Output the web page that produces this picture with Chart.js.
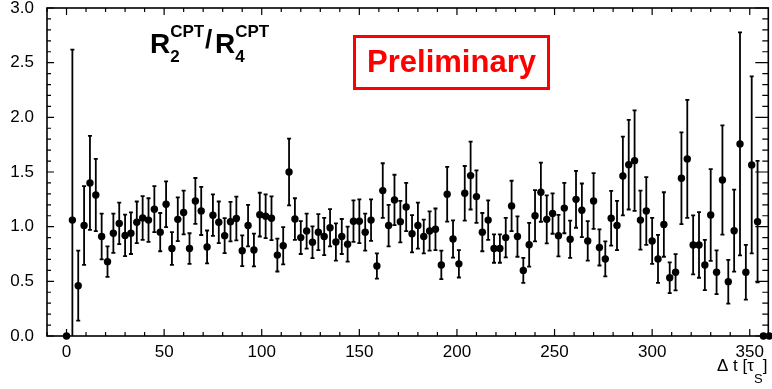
<!DOCTYPE html>
<html>
<head>
<meta charset="utf-8">
<script src="https://cdn.jsdelivr.net/npm/chart.js@4/dist/chart.umd.min.js"></script>
<style>
  html, body { margin: 0; padding: 0; background: #fff; }
</style>
</head>
<body>
<canvas id="c" width="772" height="389"></canvas>
<script>
// bin centres in units of tau_S
const dt = [0,3,6,9,12,15,18,21,24,27,30,33,36,39,42,45,48,51,54,57,
  60,63,66,69,72,75,78,81,84,87,90,93,96,99,102,105,108,111,114,117,
  120,123,126,129,132,135,138,141,144,147,150,153,156,159,162,165,168,171,174,177,
  180,183,186,189,192,195,198,201,204,207,210,213,216,219,222,225,228,231,234,237,
  240,243,246,249,252,255,258,261,264,267,270,273,276,279,282,285,288,291,294,297,
  300,303,306,309,312,315,318,321,324,327,330,333,336,339,342,345,348,351,354,357,360]

// R2CPT / R4CPT per bin
const ratio = [0, 1.06, 0.46, 1.01, 1.40, 1.29, 0.91, 0.68, 0.94, 1.03,
  0.92, 0.94, 1.04, 1.08, 1.06, 1.16, 0.95, 1.205, 0.80, 1.067,
  1.13, 0.80, 1.235, 1.144, 0.815, 1.105, 1.04, 0.918, 1.046, 1.075,
  0.78, 1.01, 0.787, 1.11, 1.095, 1.077, 0.74, 0.826, 1.50, 1.07,
  0.90, 0.96, 0.857, 0.95, 0.91, 0.99, 0.86, 0.91, 0.84, 1.05,
  1.05, 0.95, 1.06, 0.64, 1.33, 1.01, 1.245, 1.046, 1.18, 0.935,
  1.01, 0.91, 0.96, 0.976, 0.65, 1.296, 0.887, 0.66, 1.305, 1.467,
  1.275, 0.95, 1.06, 0.80, 0.80, 0.90, 1.19, 0.91, 0.60, 0.835,
  1.10, 1.315, 1.067, 1.12, 0.918, 1.17, 0.885, 1.25, 1.15, 0.87,
  1.235, 0.81, 0.705, 1.077, 1.01, 1.464, 1.567, 1.604, 1.06, 1.144,
  0.87, 0.705, 1.02, 0.533, 0.583, 1.443, 1.62, 0.833, 0.833, 0.65,
  1.107, 0.583, 1.427, 0.497, 0.963, 1.757, 0.583, 1.565, 1.046, 0,
  0]

const ratioErr = [0, 1.56, 0.32, 0.36, 0.43, 0.33, 0.21, 0.14, 0.18, 0.19,
  0.19, 0.19, 0.19, 0.20, 0.20, 0.21, 0.175, 0.21, 0.15, 0.20,
  0.20, 0.14, 0.21, 0.22, 0.15, 0.19, 0.19, 0.16, 0.18, 0.20,
  0.14, 0.19, 0.15, 0.20, 0.20, 0.20, 0.15, 0.17, 0.305, 0.19,
  0.15, 0.16, 0.145, 0.165, 0.17, 0.17, 0.17, 0.16, 0.16, 0.19,
  0.20, 0.17, 0.19, 0.115, 0.25, 0.19, 0.23, 0.19, 0.22, 0.17,
  0.21, 0.155, 0.18, 0.19, 0.13, 0.25, 0.17, 0.125, 0.25, 0.31,
  0.24, 0.175, 0.18, 0.13, 0.13, 0.18, 0.23, 0.185, 0.115, 0.20,
  0.235, 0.27, 0.22, 0.185, 0.19, 0.23, 0.17, 0.26, 0.245, 0.18,
  0.255, 0.165, 0.16, 0.25, 0.225, 0.36, 0.41, 0.46, 0.27, 0.31,
  0.21, 0.22, 0.295, 0.14, 0.165, 0.42, 0.54, 0.27, 0.30, 0.23,
  0.42, 0.20, 0.50, 0.20, 0.375, 1.02, 0.25, 0.81, 0.555, 0,
  0]

const xTicks = [0, 50, 100, 150, 200, 250, 300, 350]
const yTicks = [0, 0.5, 1.0, 1.5, 2.0, 2.5, 3.0]

const FONT = '"Liberation Sans", Arial, Helvetica, sans-serif'

// ROOT-like frame, inward ticks, error bars and the text boxes
const rootStyle = {
  id: 'rootStyle',
  beforeDatasetsDraw(chart) {
    const {ctx, chartArea: a, scales: {x, y}} = chart
    ctx.save()
    ctx.beginPath()
    ctx.rect(a.left, a.top, a.right - a.left, a.bottom - a.top)
    ctx.clip()
    ctx.strokeStyle = '#000'
    ctx.lineWidth = 1.8
    ctx.beginPath()
    dt.forEach((t, i) => {
      if (!ratioErr[i]) return
      const px = x.getPixelForValue(t)
      const top = y.getPixelForValue(ratio[i] + ratioErr[i])
      const bot = y.getPixelForValue(ratio[i] - ratioErr[i])
      ctx.moveTo(px, top); ctx.lineTo(px, bot)
      ctx.moveTo(px - 2, top); ctx.lineTo(px + 2, top)
      ctx.moveTo(px - 2, bot); ctx.lineTo(px + 2, bot)
    })
    ctx.stroke()
    ctx.restore()
  },
  afterDraw(chart) {
    const {ctx, chartArea: a, scales: {x, y}} = chart
    ctx.save()
    ctx.strokeStyle = '#000'
    ctx.lineWidth = 1.6
    ctx.strokeRect(a.left, a.top, a.right - a.left, a.bottom - a.top)

    ctx.lineWidth = 1.2
    ctx.beginPath()
    for (let v = -10; v <= 360; v += 10) {
      const px = x.getPixelForValue(v)
      if (px < a.left || px > a.right) continue
      const len = v % 50 === 0 ? 7 : 4
      ctx.moveTo(px, a.bottom); ctx.lineTo(px, a.bottom - len)
      ctx.moveTo(px, a.top); ctx.lineTo(px, a.top + len)
    }
    for (let k = 0; k <= 30; k++) {
      const py = y.getPixelForValue(k / 10)
      const major = k % 5 === 0
      ctx.moveTo(a.left, py); ctx.lineTo(a.left + (major ? 7 : 4), py)
      ctx.moveTo(a.right, py); ctx.lineTo(a.right - (major ? 13 : 6), py)
    }
    ctx.stroke()

    // title R2CPT / R4CPT
    ctx.fillStyle = '#000'
    ctx.textAlign = 'left'
    ctx.textBaseline = 'alphabetic'
    let cx = 150
    ctx.font = 'bold 28px ' + FONT
    ctx.fillText('R', cx, 53)
    cx += ctx.measureText('R').width
    ctx.font = 'bold 17px ' + FONT
    ctx.fillText('CPT', cx, 37)
    ctx.fillText('2', cx, 62)
    cx = 205
    ctx.font = 'bold 26px ' + FONT
    ctx.fillText('/', cx, 48)
    cx = 215
    ctx.font = 'bold 28px ' + FONT
    ctx.fillText('R', cx, 53)
    cx += ctx.measureText('R').width
    ctx.font = 'bold 17px ' + FONT
    ctx.fillText('CPT', cx, 37)
    ctx.fillText('4', cx, 62)

    // Preliminary box
    ctx.strokeStyle = '#ff0000'
    ctx.lineWidth = 3
    ctx.strokeRect(354.5, 36.5, 194, 52)
    ctx.fillStyle = '#ff0000'
    ctx.font = 'bold 31px ' + FONT
    ctx.textAlign = 'center'
    ctx.fillText('Preliminary', 451.5, 72)

    // x axis title: Δ t [τS]
    ctx.fillStyle = '#000'
    ctx.textAlign = 'left'
    let tx = 717
    ctx.font = '17px ' + FONT
    ctx.fillText('\u0394 t [\u03c4', tx, 371)
    tx += ctx.measureText('\u0394 t [\u03c4').width
    ctx.font = '13px ' + FONT
    ctx.fillText('S', tx, 383)
    tx += ctx.measureText('S').width
    ctx.font = '17px ' + FONT
    ctx.fillText(']', tx, 371)
    ctx.restore()
  }
}

new Chart(document.getElementById('c'), {
  type: 'scatter',
  data: {
    datasets: [{
      data: dt.map((t, i) => ({x: t, y: ratio[i]})),
      pointRadius: 3.7,
      pointHoverRadius: 3.7,
      pointBackgroundColor: '#000',
      pointBorderWidth: 0,
      clip: false
    }]
  },
  options: {
    responsive: false,
    animation: false,
    devicePixelRatio: 1,
    events: [],
    layout: {padding: {top: 8, right: 1, left: 0, bottom: 0}},
    plugins: {legend: {display: false}, tooltip: {enabled: false}},
    scales: {
      x: {
        type: 'linear',
        min: -10,
        max: 359.5,
        grid: {display: false, drawTicks: false},
        border: {display: false},
        ticks: {color: '#000', font: {family: FONT, size: 17}, padding: 6, maxRotation: 0},
        afterBuildTicks: s => { s.ticks = xTicks.map(v => ({value: v})) },
        afterFit: s => { s.height = 53; s.paddingLeft = 0; s.paddingRight = 0 }
      },
      y: {
        type: 'linear',
        min: 0,
        max: 3,
        grid: {display: false, drawTicks: false},
        border: {display: false},
        ticks: {color: '#000', font: {family: FONT, size: 17}, padding: 13,
          callback: v => v.toFixed(1)},
        afterBuildTicks: s => { s.ticks = yTicks.map(v => ({value: v})) },
        afterFit: s => { s.width = 47; s.paddingTop = 0; s.paddingBottom = 0 }
      }
    }
  },
  plugins: [rootStyle]
})
</script>
</body>
</html>
